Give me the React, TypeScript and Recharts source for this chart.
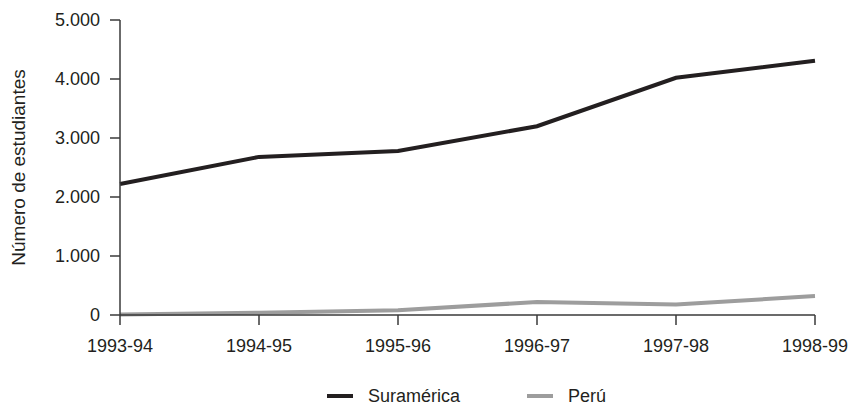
import React from 'react';
import { LineChart, Line, XAxis, YAxis, Legend } from 'recharts';

// ─── Data ─────────────────────────────────────────────────────────────────────

const years = ['1993-94', '1994-95', '1995-96', '1996-97', '1997-98', '1998-99'];
const suramerica = [2220, 2680, 2780, 3200, 4020, 4310];
const peru = [10, 40, 80, 220, 180, 320];
const yTicks = [0, 1000, 2000, 3000, 4000, 5000];

const data = years.map((y, i) => ({ year: y, suramerica: suramerica[i], peru: peru[i] }));

const INK = '#231f20';
const GREY = '#9d9d9d';
const AXIS = '#3a3a3a';
const FONT = "'Liberation Sans', Arial, Helvetica, sans-serif";

function fmtThousands(v: number): string {
  return v.toLocaleString('de-DE');
}

// ─── Legend ───────────────────────────────────────────────────────────────────

function ChartLegend() {
  const items = [
    { label: 'Suramérica', color: INK },
    { label: 'Perú', color: GREY },
  ];
  return (
    <div style={{ position: 'relative', width: 854, height: 20, fontFamily: FONT, fontSize: 18, color: INK }}>
      {items.map((it, i) => (
        <div
          key={it.label}
          style={{ position: 'absolute', left: 327 + i * 200, top: 0, display: 'flex', alignItems: 'center', height: 20 }}
        >
          <span style={{ display: 'inline-block', width: 26, height: 4, background: it.color, marginRight: 15 }} />
          <span style={{ lineHeight: '20px' }}>{it.label}</span>
        </div>
      ))}
    </div>
  );
}

// ─── Component ────────────────────────────────────────────────────────────────

export default function App() {
  return (
    <div style={{ position: 'absolute', left: 0, top: 0, width: 854, height: 405, background: '#fff' }}>
      <LineChart
        width={854}
        height={405}
        data={data}
        margin={{ top: 20, right: 39, left: 0, bottom: 10 }}
      >
        <XAxis
          dataKey="year"
          height={60}
          stroke={AXIS}
          strokeWidth={1.5}
          tickSize={10}
          tickMargin={14}
          tick={{ fill: INK, fontSize: 18, fontFamily: FONT }}
          interval={0}
        />
        <YAxis
          type="number"
          domain={[0, 5000]}
          ticks={yTicks}
          width={120}
          stroke={AXIS}
          strokeWidth={1.5}
          tickSize={10}
          tickMargin={10}
          tickFormatter={fmtThousands}
          tick={{ fill: INK, fontSize: 18, fontFamily: FONT }}
          label={{
            value: 'Número de estudiantes',
            angle: -90,
            position: 'center',
            dx: -42,
            fill: INK,
            fontSize: 19,
            fontFamily: FONT,
          }}
        />
        <Legend
          layout="vertical"
          align="center"
          verticalAlign="bottom"
          content={<ChartLegend />}
          wrapperStyle={{ position: 'absolute', left: 0, top: 386, width: 854 }}
        />
        <Line
          dataKey="suramerica"
          name="Suramérica"
          stroke={INK}
          strokeWidth={4}
          dot={false}
          isAnimationActive={false}
        />
        <Line
          dataKey="peru"
          name="Perú"
          stroke={GREY}
          strokeWidth={4}
          dot={false}
          isAnimationActive={false}
        />
      </LineChart>
    </div>
  );
}
